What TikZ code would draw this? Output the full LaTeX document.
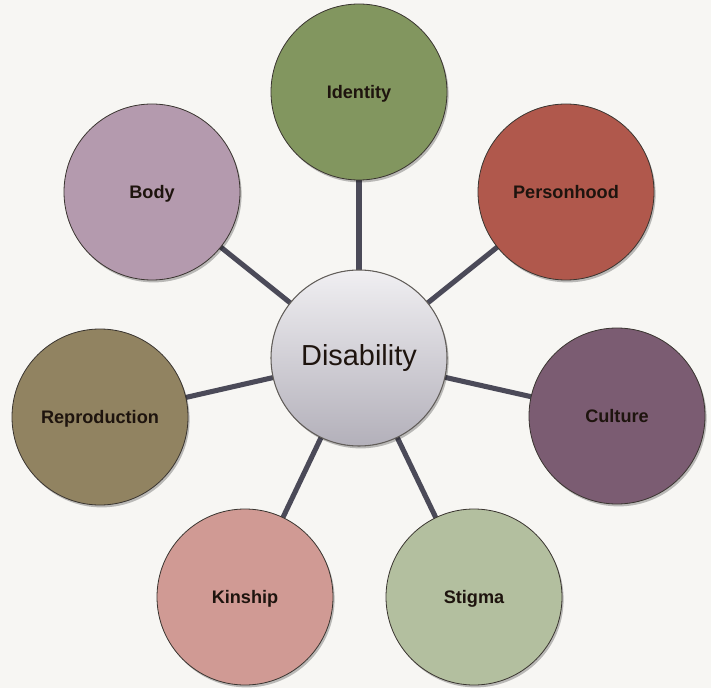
\documentclass[tikz,border=0pt]{standalone}
\usepackage{fontspec}
\setmainfont{Liberation Sans}
\usetikzlibrary{shadows}
\definecolor{bg}{HTML}{F7F6F3}
\definecolor{link}{HTML}{4B4A58}
\definecolor{cIdentity}{HTML}{82965F}
\definecolor{cPerson}{HTML}{B0584C}
\definecolor{cCulture}{HTML}{7B5C72}
\definecolor{cStigma}{HTML}{B3BF9F}
\definecolor{cKinship}{HTML}{D09A94}
\definecolor{cRepro}{HTML}{918361}
\definecolor{cBody}{HTML}{B49AAE}
\definecolor{hubTop}{HTML}{F0EFF2}
\definecolor{hubBot}{HTML}{B3B0BA}
\definecolor{rim}{HTML}{3A3530}
\definecolor{txt}{HTML}{1E140E}
\tikzset{
  outer/.style={circle, minimum size=132pt, inner sep=0pt, draw=rim, line width=0.6pt,
    text=txt, font=\bfseries\fontsize{13.6}{15}\selectfont, text depth=0pt,
    drop shadow={shadow xshift=1.2pt, shadow yshift=-1.8pt, opacity=0.25, fill=black}},
  hub/.style={circle, minimum size=132pt, inner sep=0pt, draw=rim!80, line width=0.8pt,
    top color=hubTop, bottom color=hubBot, text=txt, font=\fontsize{21.7}{24}\selectfont,
    drop shadow={shadow xshift=1.2pt, shadow yshift=-1.8pt, opacity=0.25, fill=black}},
  spoke/.style={draw=link, line width=3.8pt}
}
\begin{document}
\begin{tikzpicture}[x=0.75pt, y=-0.75pt]
\fill[bg] (0,0) rectangle (711,688);
\useasboundingbox (0,0) rectangle (711,688);
\coordinate (cH) at (359,358);
\coordinate (cI) at (359,92);
\coordinate (cP) at (566,192);
\coordinate (cC) at (617,416);
\coordinate (cS) at (474,597);
\coordinate (cK) at (245,597);
\coordinate (cR) at (100,417);
\coordinate (cB) at (152,192);
\foreach \t in {cI,cP,cC,cS,cK,cR,cB} {\draw[spoke] (cH) -- (\t);}
\node[outer, fill=cIdentity] (identity) at (cI) {Identity};
\node[outer, fill=cPerson] (person) at (cP) {Personhood};
\node[outer, fill=cCulture] (culture) at (cC) {Culture};
\node[outer, fill=cStigma] (stigma) at (cS) {Stigma};
\node[outer, fill=cKinship] (kinship) at (cK) {Kinship};
\node[outer, fill=cRepro] (repro) at (cR) {Reproduction};
\node[outer, fill=cBody] (body) at (cB) {Body};
\node[hub] (hub) at (cH) {Disability};
\end{tikzpicture}
\end{document}
